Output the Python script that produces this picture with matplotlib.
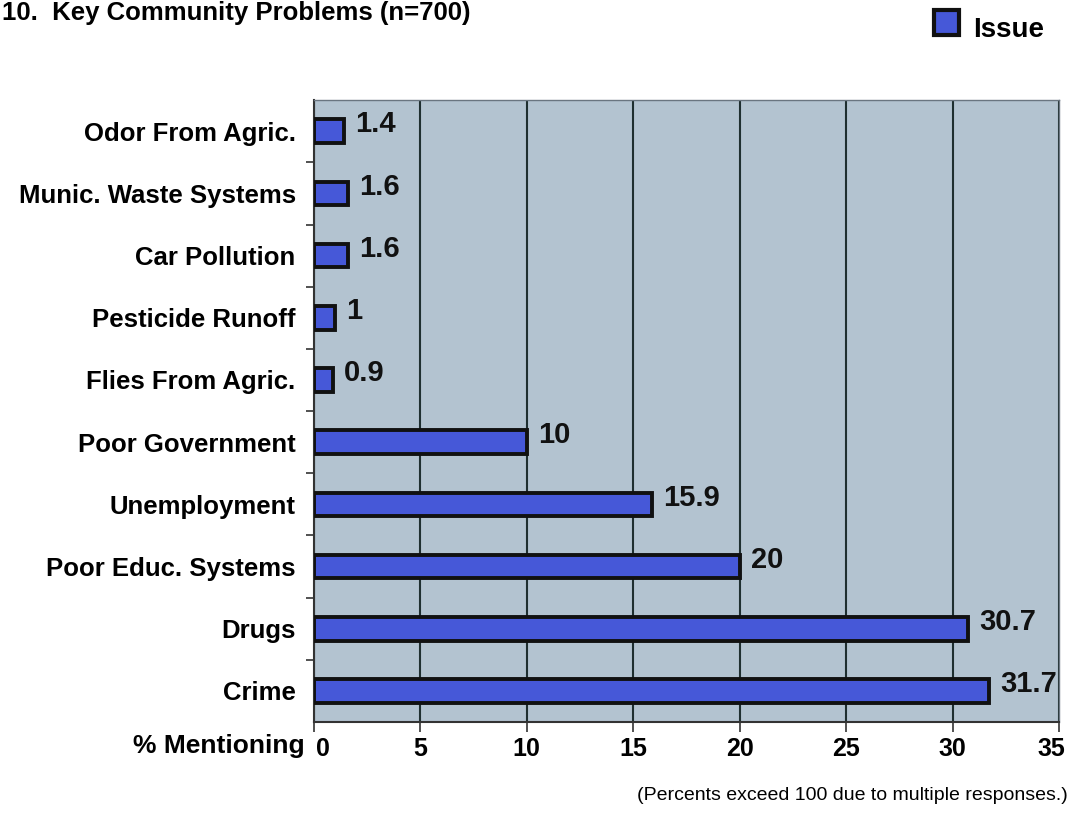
import matplotlib
matplotlib.use("Agg")
import matplotlib.pyplot as plt
from matplotlib.patches import Rectangle
from matplotlib.transforms import ScaledTranslation

plt.rcParams['font.family'] = ['Liberation Sans', 'DejaVu Sans']

categories = ["Odor From Agric.", "Munic. Waste Systems", "Car Pollution",
              "Pesticide Runoff", "Flies From Agric.", "Poor Government",
              "Unemployment", "Poor Educ. Systems", "Drugs", "Crime"]
values = [1.4, 1.6, 1.6, 1, 0.9, 10, 15.9, 20, 30.7, 31.7]
value_labels = ["1.4", "1.6", "1.6", "1", "0.9", "10", "15.9", "20", "30.7", "31.7"]
xticks = [0, 5, 10, 15, 20, 25, 30, 35]
series_name = "Issue"

fig = plt.figure(figsize=(10.82, 8.21), dpi=100)
ax = fig.add_axes([0.290, 0.1206, 0.689, 0.7574])
ax.set_facecolor('#b3c3d0')

bar_color = '#4658d8'
n = len(categories)
ypos = list(range(n))[::-1]
ax.barh(ypos, values, height=0.38, color=bar_color, edgecolor='#111111',
        linewidth=2.8, zorder=3)
for y, v, lab in zip(ypos, values, value_labels):
    ax.annotate(lab, (v, y + 0.11), xytext=(8, 0), textcoords='offset points',
                fontsize=21, fontweight='bold', va='center', ha='left',
                color='#111111', zorder=4)

ax.set_xlim(0, 35)
ax.set_ylim(-0.5, n - 0.5)
ax.set_xticks(xticks)
ax.set_xticklabels([str(t) for t in xticks], fontsize=18, fontweight='bold')
ax.set_yticks(ypos)
ax.set_yticklabels(categories, fontsize=18.5, fontweight='bold')
ax.tick_params(axis='y', length=0, pad=13)
ax.set_yticks([i + 0.5 for i in range(n - 1)], minor=True)
ax.tick_params(axis='y', which='minor', length=6, color='#333333', width=1.2)
ax.tick_params(axis='x', length=7.5, width=1.2, color='#333333', pad=3)
xl = ax.get_xticklabels()
xl[0].set_transform(xl[0].get_transform() + ScaledTranslation(9 / 100, 0, fig.dpi_scale_trans))
xl[-1].set_transform(xl[-1].get_transform() + ScaledTranslation(-8 / 100, 0, fig.dpi_scale_trans))
ax.xaxis.grid(True, color='#1f2f30', linewidth=1.5, zorder=1)
ax.set_axisbelow(True)
for side in ['left', 'bottom']:
    ax.spines[side].set_color('#333333')
    ax.spines[side].set_linewidth(1.5)
for side in ['top', 'right']:
    ax.spines[side].set_color('#6a7580')
    ax.spines[side].set_linewidth(1.0)

fig.text(305 / 1082, 1 - 746 / 821, "% Mentioning", fontsize=19, fontweight='bold',
         ha='right', va='center')
fig.text(2 / 1082, 1 - 20 / 821, "10.  Key Community Problems (n=700)", fontsize=18.5,
         fontweight='bold', ha='left', va='baseline')
fig.text(0.987, 1 - 795 / 821, "(Percents exceed 100 due to multiple responses.)",
         fontsize=14, ha='right', va='center')

# legend
fig.patches.append(Rectangle((934 / 1082, 1 - 35 / 821), 25 / 1082, 25 / 821,
                             transform=fig.transFigure, facecolor=bar_color,
                             edgecolor='#111111', linewidth=3))
fig.text(973 / 1082, 1 - 37 / 821, series_name, fontsize=20, fontweight='bold',
         ha='left', va='baseline')

fig.savefig("out.png", dpi=100)
